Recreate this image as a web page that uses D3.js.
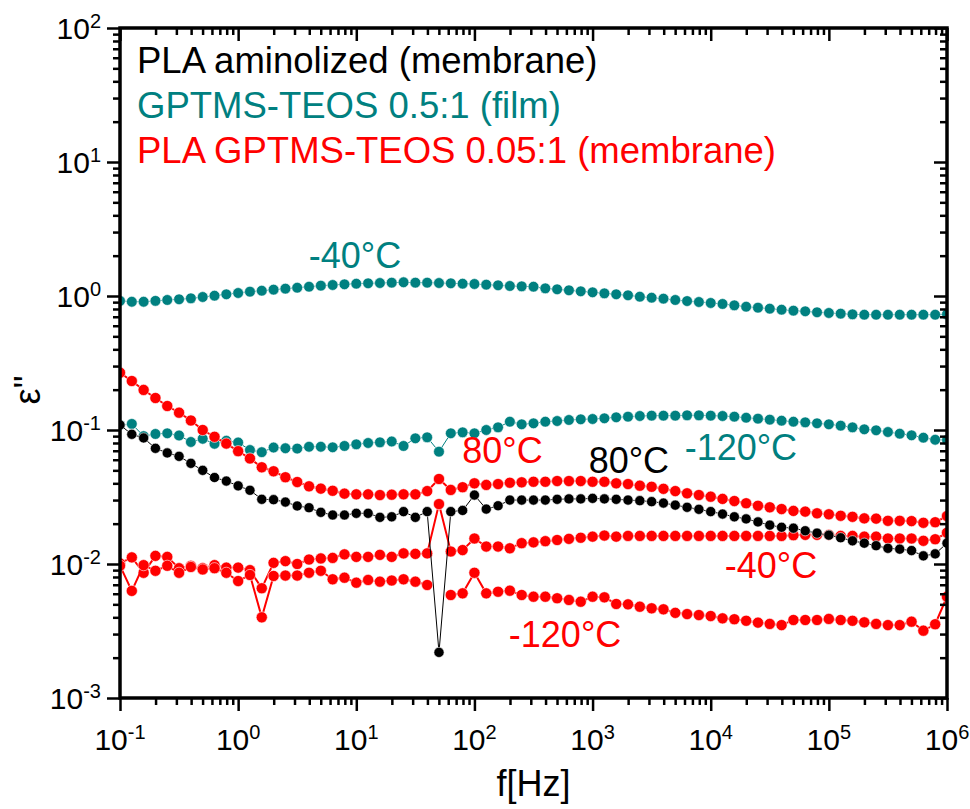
<!DOCTYPE html>
<html>
<head>
<meta charset="utf-8">
<script src="https://cdn.jsdelivr.net/npm/d3@7"></script>
<style>
  html, body { margin: 0; padding: 0; background: #fff; }
  text { font-family: "Liberation Sans", Arial, Helvetica, sans-serif; }
</style>
</head>
<body>
<svg id="chart" width="970" height="809"></svg>
<script>
// Measurement frequencies, Hz (10 points per decade)
const freq = [
  0.1, 0.1259, 0.1585, 0.1995, 0.2512, 0.3162, 0.3981, 0.5012, 0.631, 0.7943,
  1, 1.259, 1.585, 1.995, 2.512, 3.162, 3.981, 5.012, 6.31, 7.943,
  10, 12.59, 15.85, 19.95, 25.12, 31.62, 39.81, 50.12, 63.1, 79.43,
  100, 125.9, 158.5, 199.5, 251.2, 316.2, 398.1, 501.2, 631, 794.3,
  1000, 1259, 1585, 1995, 2512, 3162, 3981, 5012, 6310, 7943,
  10000, 12590, 15850, 19950, 25120, 31620, 39810, 50120, 63100, 79430,
  100000, 125900, 158500, 199500, 251200, 316200, 398100, 501200, 631000, 794300,
  1000000
];

// ε'' — GPTMS-TEOS 0.5:1 (film), -40 °C
const filmMinus40 = [
  0.92, 0.906, 0.906, 0.92, 0.934, 0.945, 0.961, 0.983, 1.005, 1.03,
  1.053, 1.077, 1.095, 1.115, 1.134, 1.153, 1.173, 1.194, 1.208, 1.223,
  1.235, 1.244, 1.25, 1.257, 1.266, 1.257, 1.257, 1.25, 1.244, 1.235,
  1.229, 1.215, 1.202, 1.188, 1.181, 1.173, 1.141, 1.122, 1.103, 1.084,
  1.066, 1.047, 1.03, 1.012, 0.988, 0.971, 0.955, 0.934, 0.917, 0.902,
  0.887, 0.872, 0.852, 0.832, 0.818, 0.804, 0.79, 0.777, 0.769, 0.756,
  0.747, 0.738, 0.73, 0.725, 0.725, 0.725, 0.725, 0.725, 0.725, 0.725,
  0.73
];

// ε'' — GPTMS-TEOS 0.5:1 (film), -120 °C
const filmMinus120 = [
  0.109, 0.111, 0.090, 0.0934, 0.0945, 0.091, 0.0814, 0.086, 0.0789, 0.0831,
  0.0807, 0.0709, 0.0683, 0.074, 0.0731, 0.0727, 0.075, 0.075, 0.0743, 0.076,
  0.0782, 0.080, 0.0809, 0.0821, 0.076, 0.0867, 0.0882, 0.0689, 0.0945, 0.0961,
  0.0945, 0.100, 0.1047, 0.1153, 0.1103, 0.1122, 0.1153, 0.1167, 0.1188, 0.1202,
  0.1208, 0.1223, 0.1244, 0.1257, 0.1272, 0.1279, 0.1279, 0.1279, 0.1287, 0.1287,
  0.1279, 0.1272, 0.1257, 0.1235, 0.1215, 0.1194, 0.1173, 0.1153, 0.1141, 0.1122,
  0.1103, 0.1077, 0.1047, 0.1012, 0.0995, 0.0966, 0.0938, 0.0913, 0.0876, 0.0846,
  0.0842
];

// ε'' — PLA GPTMS-TEOS 0.05:1 (membrane), 80 °C
const membrane80 = [
  0.2677, 0.232, 0.199, 0.1733, 0.151, 0.1346, 0.1177, 0.1, 0.089, 0.0792,
  0.0695, 0.0613, 0.0527, 0.0492, 0.0444, 0.0409, 0.038, 0.0365, 0.0352, 0.0335,
  0.0331, 0.0331, 0.0327, 0.0329, 0.0331, 0.0331, 0.035, 0.0431, 0.0357, 0.0374,
  0.04, 0.0389, 0.0395, 0.0404, 0.0407, 0.0411, 0.0411, 0.0416, 0.0416, 0.0416,
  0.0411, 0.0411, 0.04, 0.0395, 0.0384, 0.0377, 0.0364, 0.035, 0.0337, 0.0327,
  0.0318, 0.0306, 0.0295, 0.0284, 0.0272, 0.0265, 0.0257, 0.0249, 0.0246, 0.0239,
  0.0235, 0.0229, 0.0225, 0.0219, 0.0218, 0.021, 0.021, 0.0209, 0.0203, 0.0205,
  0.0228
];

// ε'' — PLA GPTMS-TEOS 0.05:1 (membrane), -40 °C
const membraneMinus40 = [
  0.0101, 0.0112, 0.0086, 0.0115, 0.0113, 0.0093, 0.0097, 0.0093, 0.0098, 0.0094,
  0.0094, 0.009, 0.00659, 0.0102, 0.0105, 0.01, 0.0108, 0.011, 0.0111, 0.0118,
  0.0113, 0.0113, 0.0117, 0.0113, 0.012, 0.0119, 0.012, 0.028, 0.0124, 0.0127,
  0.0155, 0.0135, 0.0135, 0.0131, 0.0143, 0.0145, 0.0148, 0.0151, 0.0154, 0.0157,
  0.016, 0.0163, 0.016, 0.0162, 0.0162, 0.0162, 0.0162, 0.0162, 0.0162, 0.0162,
  0.0162, 0.0162, 0.0162, 0.0162, 0.0162, 0.0162, 0.0162, 0.0164, 0.0165, 0.0165,
  0.0165, 0.0162, 0.0162, 0.016, 0.016, 0.0155, 0.0155, 0.0155, 0.0149, 0.0153,
  0.0171
];

// ε'' — PLA GPTMS-TEOS 0.05:1 (membrane), -120 °C (no reading at 50 Hz)
const membraneMinus120 = [
  0.0097, 0.0063, 0.0098, 0.0089, 0.0097, 0.0086, 0.0095, 0.0091, 0.0093, 0.0086,
  0.00746, 0.00828, 0.004, 0.00814, 0.0082, 0.0082, 0.0086, 0.0089, 0.00769, 0.0079,
  0.00725, 0.0076, 0.00738, 0.00753, 0.00769, 0.00738, 0.00697, null, 0.00587, 0.00604,
  0.0086, 0.00604, 0.00621, 0.00632, 0.00587, 0.0057, 0.0057, 0.00555, 0.00539, 0.00523,
  0.0057, 0.00564, 0.00503, 0.005, 0.0048, 0.00467, 0.00459, 0.00432, 0.00423, 0.00416,
  0.00409, 0.00393, 0.00387, 0.00377, 0.00365, 0.00357, 0.0035, 0.00382, 0.00382, 0.00382,
  0.00389, 0.00382, 0.00377, 0.00367, 0.00357, 0.0035, 0.0035, 0.00371, 0.00318, 0.00355,
  0.0057
];

// ε'' — PLA aminolized (membrane), 80 °C
const aminolized80 = [
  0.109, 0.0929, 0.0872, 0.073, 0.0674, 0.0636, 0.0564, 0.05, 0.0442, 0.0416,
  0.0383, 0.0355, 0.0304, 0.0302, 0.029, 0.0271, 0.0263, 0.0243, 0.0232, 0.0232,
  0.0239, 0.0239, 0.0223, 0.0225, 0.0246, 0.0223, 0.0246, 0.00219, 0.0246, 0.0251,
  0.0327, 0.0257, 0.0272, 0.03, 0.03, 0.03, 0.03, 0.0304, 0.0306, 0.0306,
  0.0309, 0.0306, 0.0304, 0.03, 0.0297, 0.0292, 0.0285, 0.0275, 0.0265, 0.0256,
  0.0246, 0.0236, 0.0225, 0.0217, 0.0206, 0.0195, 0.0188, 0.0185, 0.0177, 0.017,
  0.0164, 0.0157, 0.0149, 0.0143, 0.0137, 0.0131, 0.0129, 0.0126, 0.0115, 0.0119,
  0.0143
];

// Axis decades and their labels (base, exponent)
const xDecades = [0.1, 1, 10, 100, 1e3, 1e4, 1e5, 1e6];
const xDecadeLabels = ["-1", "0", "1", "2", "3", "4", "5", "6"];
const yDecades = [1e-3, 1e-2, 1e-1, 1, 10, 100];
const yDecadeLabels = ["-3", "-2", "-1", "0", "1", "2"];

// Legend entries
const legendNames = ["PLA aminolized (membrane)", "GPTMS-TEOS 0.5:1 (film)", "PLA GPTMS-TEOS 0.05:1 (membrane)"];

// Temperature tags placed in data coordinates (f, ε'')
const tagTexts = ["-40°C", "-120°C", "80°C", "80°C", "-40°C", "-120°C"];
const tagFreq  = [9.75, 18000, 173, 2030, 32400, 585];
const tagValue = [1.62, 0.0597, 0.0568, 0.0478, 0.00787, 0.0024];

const TEAL = "#008080", RED = "#ff0000", BLACK = "#000000";
const tagColors = [TEAL, TEAL, RED, BLACK, RED, RED];
const legendColors = [BLACK, TEAL, RED];

const plot = { left: 120, right: 947, top: 28, bottom: 698 };

const svg = d3.select("#chart");
const x = d3.scaleLog().domain([0.1, 1e6]).range([plot.left, plot.right]);
const y = d3.scaleLog().domain([1e-3, 1e2]).range([plot.bottom, plot.top]);

svg.append("defs").append("clipPath").attr("id", "plotClip")
  .append("rect")
  .attr("x", plot.left).attr("y", plot.top)
  .attr("width", plot.right - plot.left).attr("height", plot.bottom - plot.top);

// Series, drawn bottom to top
const series = [
  { values: filmMinus40,      color: TEAL,  r: 5.4, lw: 1 },
  { values: filmMinus120,     color: TEAL,  r: 5.4, lw: 1 },
  { values: membrane80,       color: RED,   r: 5.6, lw: 2 },
  { values: membraneMinus40,  color: RED,   r: 5.6, lw: 2 },
  { values: membraneMinus120, color: RED,   r: 5.6, lw: 2 },
  { values: aminolized80,     color: BLACK, r: 5.1, lw: 1 }
];

const dataLayer = svg.append("g").attr("clip-path", "url(#plotClip)");
const line = d3.line()
  .defined(d => d.v != null)
  .x(d => x(d.f))
  .y(d => y(d.v));

series.forEach(s => {
  const pts = freq.map((f, i) => ({ f, v: s.values[i] }));
  const g = dataLayer.append("g");
  g.append("path")
    .datum(pts)
    .attr("fill", "none")
    .attr("stroke", s.color)
    .attr("stroke-width", s.lw)
    .attr("d", line);
  g.selectAll("circle")
    .data(pts.filter(d => d.v != null))
    .join("circle")
    .attr("cx", d => x(d.f))
    .attr("cy", d => y(d.v))
    .attr("r", s.r)
    .attr("fill", s.color)
    .attr("stroke", "#fff")
    .attr("stroke-width", 0.6);
});

// Axes
const minorX = x.ticks().filter(v => !xDecades.some(d => Math.abs(v / d - 1) < 1e-9));
const minorY = y.ticks().filter(v => !yDecades.some(d => Math.abs(v / d - 1) < 1e-9));
const MAJOR = 13, MINOR = 7;

function styleAxis(g) {
  g.select(".domain").remove();
  g.selectAll(".tick line").attr("stroke", "#000").attr("stroke-width", 2.5);
  g.selectAll(".tick text").remove();
}

// bottom (outward)
svg.append("g").attr("transform", `translate(0,${plot.bottom})`)
  .call(d3.axisBottom(x).tickValues(xDecades).tickSize(MAJOR).tickSizeOuter(0)).call(styleAxis);
svg.append("g").attr("transform", `translate(0,${plot.bottom})`)
  .call(d3.axisBottom(x).tickValues(minorX).tickSize(MINOR).tickSizeOuter(0)).call(styleAxis);
// top (inward)
svg.append("g").attr("transform", `translate(0,${plot.top})`)
  .call(d3.axisTop(x).tickValues(xDecades).tickSize(-MAJOR).tickSizeOuter(0)).call(styleAxis);
svg.append("g").attr("transform", `translate(0,${plot.top})`)
  .call(d3.axisTop(x).tickValues(minorX).tickSize(-MINOR).tickSizeOuter(0)).call(styleAxis);
// left (outward)
svg.append("g").attr("transform", `translate(${plot.left},0)`)
  .call(d3.axisLeft(y).tickValues(yDecades).tickSize(MAJOR).tickSizeOuter(0)).call(styleAxis);
svg.append("g").attr("transform", `translate(${plot.left},0)`)
  .call(d3.axisLeft(y).tickValues(minorY).tickSize(MINOR).tickSizeOuter(0)).call(styleAxis);
// right (inward)
svg.append("g").attr("transform", `translate(${plot.right},0)`)
  .call(d3.axisRight(y).tickValues(yDecades).tickSize(-MAJOR).tickSizeOuter(0)).call(styleAxis);
svg.append("g").attr("transform", `translate(${plot.right},0)`)
  .call(d3.axisRight(y).tickValues(minorY).tickSize(-MINOR).tickSizeOuter(0)).call(styleAxis);

// frame
svg.append("rect")
  .attr("x", plot.left).attr("y", plot.top)
  .attr("width", plot.right - plot.left).attr("height", plot.bottom - plot.top)
  .attr("fill", "none").attr("stroke", "#000").attr("stroke-width", 3.5);

// decade labels as 10 with a superscript exponent
function powerLabel(sel, exp) {
  sel.append("tspan").text("10");
  sel.append("tspan").attr("font-size", 20).attr("dy", -11).text(exp);
}

xDecades.forEach((d, i) => {
  svg.append("text")
    .attr("x", x(d)).attr("y", 750)
    .attr("text-anchor", "middle")
    .attr("font-size", 30)
    .call(powerLabel, xDecadeLabels[i]);
});
yDecades.forEach((d, i) => {
  svg.append("text")
    .attr("x", 101).attr("y", y(d) + 10.5)
    .attr("text-anchor", "end")
    .attr("font-size", 30)
    .call(powerLabel, yDecadeLabels[i]);
});

// axis titles
svg.append("text")
  .attr("x", (plot.left + plot.right) / 2).attr("y", 796)
  .attr("text-anchor", "middle").attr("font-size", 36)
  .text("f[Hz]");
svg.append("text")
  .attr("transform", "translate(40,390) rotate(-90)")
  .attr("text-anchor", "middle").attr("font-size", 36)
  .text("ε\"");

// legend
legendNames.forEach((name, i) => {
  svg.append("text")
    .attr("x", 137).attr("y", 73 + i * 45)
    .attr("font-size", 36.5)
    .attr("fill", legendColors[i])
    .text(name);
});

// temperature tags
tagTexts.forEach((t, i) => {
  svg.append("text")
    .attr("x", x(tagFreq[i])).attr("y", y(tagValue[i]))
    .attr("text-anchor", "middle")
    .attr("font-size", 36)
    .attr("fill", tagColors[i])
    .text(t);
});
</script>
</body>
</html>
